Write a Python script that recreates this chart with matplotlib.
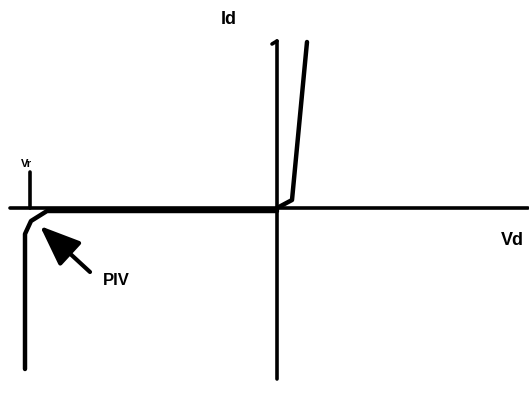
import numpy as np
import matplotlib.pyplot as plt

plt.rcParams['font.family'] = ['Liberation Sans', 'DejaVu Sans']

# diode I-V sketch, units are arbitrary (origin at 0,0)
fwd_v = [0, 15, 30]
fwd_i = [0, 8, 166]
rev_v = [0, -230, -246, -252, -252]
rev_i = [-3, -3, -13, -26, -161]
x_axis = [-267, 251]
y_axis = [-171, 167]
vr_pos = -247
vr_tick = [0, 36]
arrow_from = (-187, -64)
arrow_to = (-237, -18)

fig = plt.figure(figsize=(5.29, 4.06), dpi=100)
ax = fig.add_axes([0, 0, 1, 1])
ax.set_xlim(-277, 252)
ax.set_ylim(-197, 209)
ax.axis('off')

# axes
ax.plot(x_axis, [0, 0], color='black', lw=2.6, solid_capstyle='round')
ax.plot([0, 0], y_axis, color='black', lw=2.6, solid_capstyle='round')
ax.plot([0, -5], [y_axis[1], y_axis[1] - 3], color='black', lw=2.6, solid_capstyle='round')

# curves
ax.plot(fwd_v, fwd_i, color='black', lw=3.2, solid_capstyle='round', solid_joinstyle='round')
ax.plot(rev_v, rev_i, color='black', lw=3.2, solid_capstyle='round', solid_joinstyle='round')

# Vr tick
ax.plot([vr_pos, vr_pos], vr_tick, color='black', lw=2.6, solid_capstyle='round')

# PIV arrow
ax.annotate('', xy=arrow_to, xytext=arrow_from,
            arrowprops=dict(arrowstyle='-|>,head_length=2.5,head_width=1.0',
                            color='black', lw=3, shrinkA=0, shrinkB=0))

ax.text(-48, 190, 'Id', fontsize=13, fontweight='bold', ha='center', va='center')
ax.text(235, -32, 'Vd', fontsize=13, fontweight='bold', ha='center', va='center')
ax.text(-161, -72, 'PIV', fontsize=12, fontweight='bold', ha='center', va='center')
ax.text(-251, 45, 'Vr', fontsize=8, fontweight='bold', ha='center', va='center')

fig.savefig('out.png', dpi=100)
